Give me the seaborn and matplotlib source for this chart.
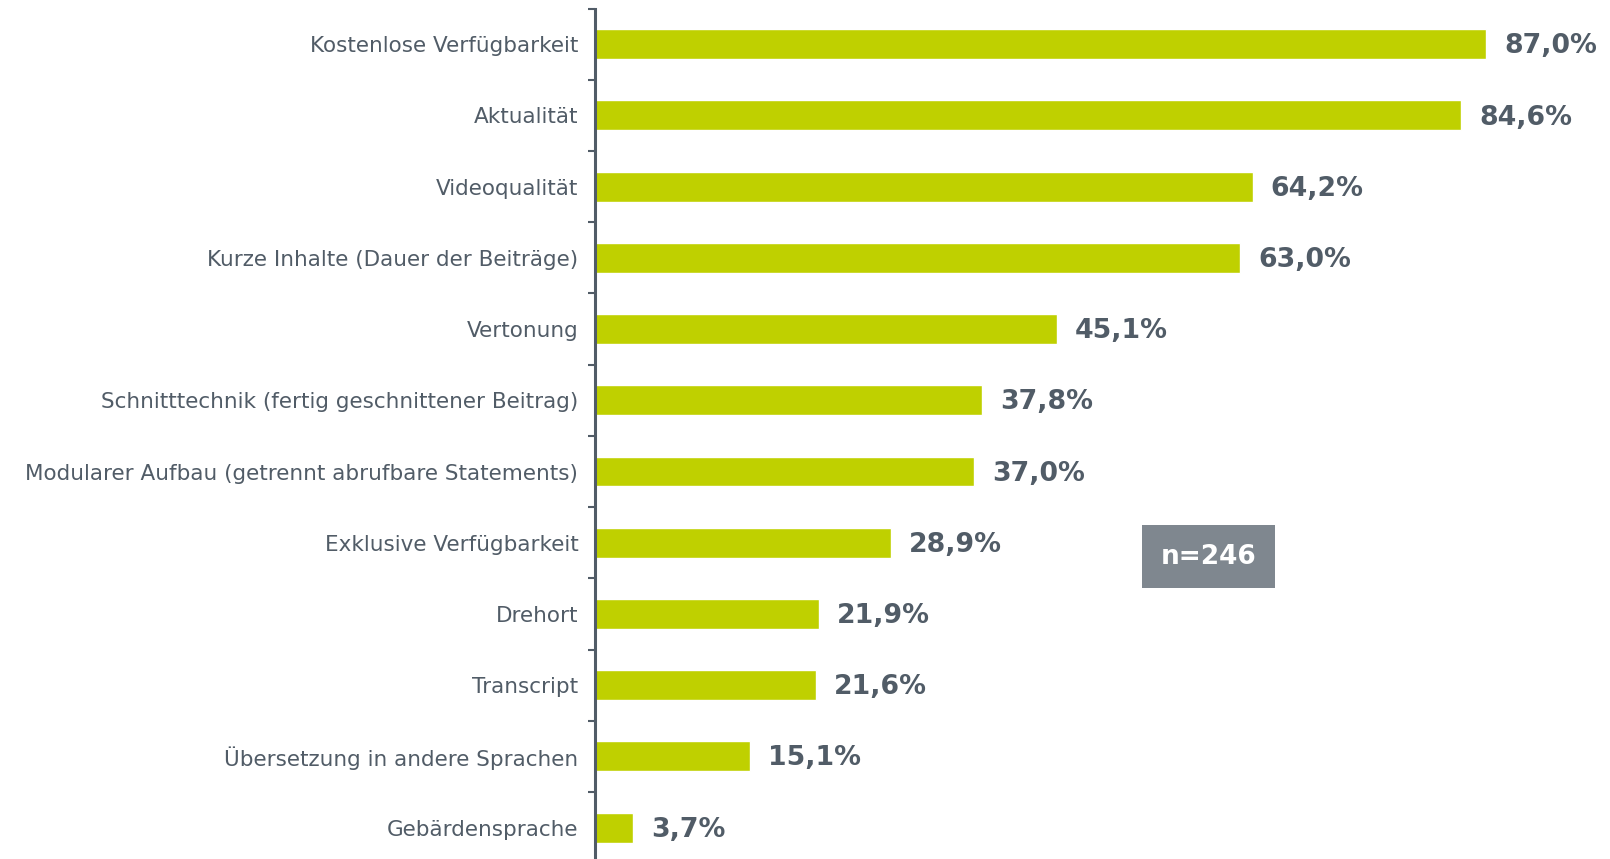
import matplotlib
matplotlib.use("Agg")
import matplotlib.pyplot as plt
import pandas as pd
import seaborn as sns

categories = [
    "Kostenlose Verfügbarkeit",
    "Aktualität",
    "Videoqualität",
    "Kurze Inhalte (Dauer der Beiträge)",
    "Vertonung",
    "Schnitttechnik (fertig geschnittener Beitrag)",
    "Modularer Aufbau (getrennt abrufbare Statements)",
    "Exklusive Verfügbarkeit",
    "Drehort",
    "Transcript",
    "Übersetzung in andere Sprachen",
    "Gebärdensprache",
]
shares = [87.0, 84.6, 64.2, 63.0, 45.1, 37.8, 37.0, 28.9, 21.9, 21.6, 15.1, 3.7]
sample_note = "n=246"

BAR = "#BFD000"
DARK = "#515C67"
BOX = "#7F878F"

sns.set_style("white")
plt.rcParams["font.family"] = ["DejaVu Sans"]

df = pd.DataFrame({"cat": categories, "share": shares})

fig = plt.figure(figsize=(16.1, 8.59), dpi=100)
ax = fig.add_axes([595 / 1610, -0.0049, 1 - 595 / 1610, 0.9949])

sns.barplot(data=df, x="share", y="cat", color=BAR, width=0.42, saturation=1,
            orient="h", ax=ax)

ax.set_xlim(0, 99.1)
ax.set_ylim(len(categories) - 0.5, -0.5)
ax.set_xlabel("")
ax.set_ylabel("")
ax.set_xticks([])

for s in ["top", "right", "bottom"]:
    ax.spines[s].set_visible(False)
ax.spines["left"].set_color(DARK)
ax.spines["left"].set_linewidth(2.2)

# labels sit at the bar centres, tick marks sit between the bars
ax.tick_params(axis="y", which="major", left=False, length=0, pad=12,
               labelsize=15.5, labelcolor=DARK)
ax.set_yticks([i - 0.5 for i in range(len(categories) + 1)], minor=True)
ax.tick_params(axis="y", which="minor", left=True, length=5, width=1.5,
               color=DARK, direction="out")

for i, v in enumerate(shares):
    ax.annotate(f"{v:.1f}".replace(".", ",") + "%", xy=(v, i), xytext=(13, -1.5),
                textcoords="offset points", va="center", ha="left",
                fontsize=19.3, fontweight="bold", color=DARK)

ax.text(59.9, 7.2, sample_note, ha="center", va="center", fontsize=19,
        fontweight="bold", color="white",
        bbox=dict(boxstyle="square,pad=0.7", facecolor=BOX, edgecolor="none"))

fig.savefig("out.png", dpi=100)
